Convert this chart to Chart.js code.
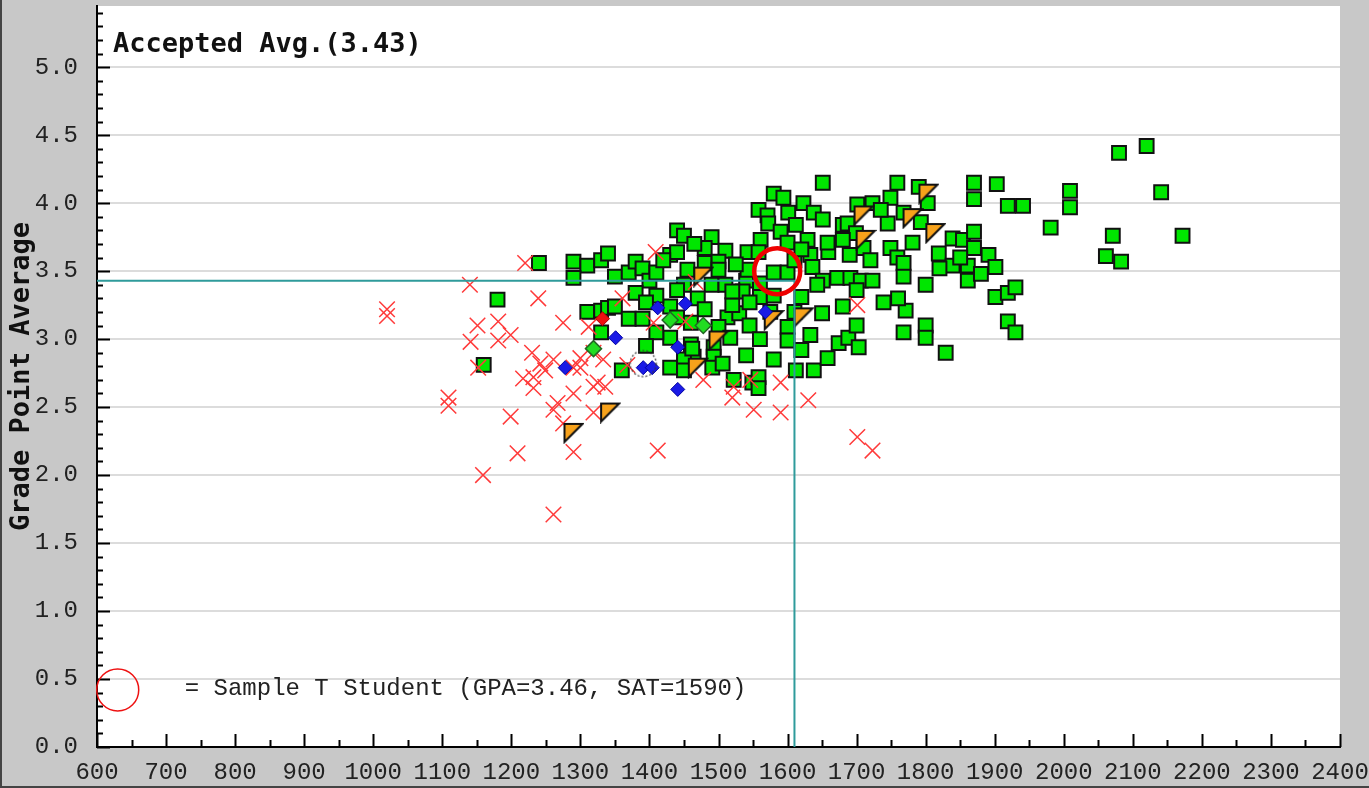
<!DOCTYPE html>
<html>
<head>
<meta charset="utf-8">
<script src="https://cdn.jsdelivr.net/npm/chart.js@4.4.1/dist/chart.umd.min.js"></script>
<style>
html,body{margin:0;padding:0;background:#c8c8c8;}
#wrap{width:1369px;height:788px;position:relative;}
</style>
</head>
<body>
<div id="wrap"><canvas id="c" width="1369" height="788"></canvas></div>
<script>
// ---- tick labels ----
const xTicks = [600,700,800,900,1000,1100,1200,1300,1400,1500,1600,1700,1800,1900,2000,2100,2200,2300,2400];
const yTicks = [0,0.5,1.0,1.5,2.0,2.5,3.0,3.5,4.0,4.5,5.0];

// ---- texts ----
const titleText = "Accepted Avg.(3.43)";
const yTitle = "Grade Point Average";
const legendText = "= Sample T Student (GPA=3.46, SAT=1590)";

// ---- reference values ----
const acceptedAvgGPA = 3.43;
const acceptedAvgSAT = 1610;
const sampleStudent = [[1585,3.50]];
const legendMarker = [[630,0.42]];

// ---- series: [SAT, GPA] ----
const accepted = [
[1240,3.56],[1290,3.57],[1310,3.54],[1330,3.58],[1340,3.63],[1290,3.45],[1350,3.46],[1370,3.49],[1380,3.57],[1390,3.52],
[1400,3.43],[1410,3.49],[1430,3.62],[1180,3.29],[1380,3.34],[1310,3.20],[1330,3.21],[1340,3.23],[1350,3.24],[1370,3.15],
[1390,3.15],[1430,3.24],[1330,3.05],[1430,3.01],[1160,2.81],[1360,2.77],[1430,2.79],[1410,3.32],[1395,3.27],
[1440,3.80],[1450,3.76],[1490,3.75],[1480,3.67],[1510,3.65],[1440,3.64],[1480,3.56],[1500,3.57],[1500,3.51],[1455,3.51],
[1450,3.40],[1490,3.40],[1510,3.40],[1540,3.43],[1560,3.41],[1560,3.31],[1580,3.32],[1620,3.31],[1535,3.35],[1440,3.36],
[1440,3.16],[1513,3.16],[1530,3.19],[1545,3.10],[1500,3.09],[1600,3.09],[1600,2.99],[1633,3.03],[1650,3.19],[1680,3.24],
[1517,3.01],[1493,2.94],[1460,2.96],[1464,2.87],[1493,2.87],[1580,2.85],[1612,2.77],[1638,2.77],[1658,2.86],[1674,2.97],
[1688,3.01],[1703,2.94],[1522,2.70],[1549,2.68],[1450,2.85],[1462,2.93],[1491,2.79],[1506,2.82],[1558,2.72],[1558,2.64],
[1450,2.77],[1545,3.27],[1470,3.30],[1520,3.25],
[1580,4.07],[1594,4.04],[1623,4.00],[1558,3.95],[1571,3.91],[1601,3.93],[1638,3.93],[1572,3.85],[1590,3.79],[1612,3.84],
[1651,3.88],[1680,3.84],[1651,4.15],[1561,3.73],[1600,3.71],[1629,3.73],[1542,3.64],[1558,3.64],[1633,3.62],[1659,3.64],
[1658,3.71],[1636,3.53],[1580,3.49],[1600,3.49],[1542,3.51],[1651,3.43],[1672,3.45],[1691,3.45],[1643,3.40],
[1759,4.15],[1790,4.12],[1749,4.04],[1723,4.00],[1701,3.99],[1687,3.85],[1699,3.78],[1710,3.67],[1768,3.93],[1793,3.86],
[1803,4.00],[1749,3.67],[1759,3.60],[1768,3.56],[1781,3.71],[1819,3.63],[1839,3.74],[1854,3.73],[1870,3.67],[1839,3.54],
[1861,3.54],[1891,3.62],[1901,3.53],[1768,3.46],[1800,3.40],[1861,3.43],[1706,3.43],[1723,3.43],[1739,3.27],[1771,3.21],
[1768,3.05],[1800,3.10],[1800,3.01],[1829,2.90],[1901,3.31],[1919,3.34],[1930,3.38],[1919,3.13],[1930,3.05],[1870,4.15],
[1870,4.03],[1903,4.14],[1919,3.98],[1941,3.98],[2009,4.09],[2009,3.97],[1981,3.82],[2071,3.76],[2172,3.76],[2061,3.61],
[2083,3.57],[2080,4.37],[2120,4.42],[2141,4.08],[1870,3.79],[1680,3.73],
[1420,3.58],[1465,3.70],[1525,3.55],[1610,3.58],[1620,3.66],[1690,3.62],[1720,3.58],[1745,3.85],[1735,3.95],[1820,3.52],
[1850,3.60],[1880,3.48],[1520,3.35],[1575,3.20],[1610,3.20],[1700,3.36],[1480,3.22],[1460,3.12],[1560,3.00],[1540,2.88],
[1620,2.92],[1700,3.10],[1760,3.30],[1410,3.05],[1395,2.95]
];
const rejected = [
[1020,3.22],[1020,3.17],[1140,3.40],[1220,3.56],[1239,3.30],[1151,3.10],[1141,2.98],[1181,3.13],[1181,2.99],[1199,3.03],
[1275,3.12],[1152,2.79],[1230,2.90],[1242,2.82],[1249,2.77],[1232,2.72],[1217,2.71],[1232,2.64],[1261,2.85],[1290,2.79],
[1300,2.86],[1109,2.57],[1109,2.51],[1199,2.43],[1261,2.48],[1290,2.60],[1319,2.65],[1336,2.65],[1319,2.46],[1275,2.38],
[1209,2.16],[1290,2.17],[1412,2.18],[1159,2.00],[1261,1.71],[1312,3.09],[1333,2.85],[1368,2.81],[1267,2.53],[1325,2.68],
[1361,3.30],[1409,3.64],[1478,2.70],[1520,2.57],[1546,2.70],[1551,2.48],[1590,2.68],[1590,2.46],[1630,2.55],[1701,2.28],
[1723,2.18],[1701,3.25],[1452,3.13],[1522,2.65],[1467,3.42],[1406,3.12],[1319,2.90],[1300,2.79]
];
const waitlisted = [
[1290,2.31],[1343,2.46],[1478,3.46],[1470,2.79],[1500,2.99],[1580,3.14],[1623,3.16],[1710,3.91],[1713,3.73],[1804,4.07],
[1781,3.89],[1814,3.78]
];
const blueDiamonds = [
[1278,2.79],[1351,3.01],[1412,3.23],[1452,3.26],[1441,2.94],[1441,2.63],[1391,2.79],[1404,2.79],[1568,3.20]
];
const greenDiamonds = [[1319,2.93],[1430,3.14],[1478,3.10]];
const redDiamonds = [[1332,3.15]];
const dashedCircle = [[1391,2.82]];

const toPts = a => a.map(p => ({x:p[0], y:p[1]}));

// ---- target plot frame (pixels) ----
const FRAME = {left:97, top:6, right:1340, bottom:747};

// ---- custom marker glyphs ----
function triGlyph(){
  const c = document.createElement('canvas'); c.width = 22; c.height = 22;
  const g = c.getContext('2d');
  g.beginPath(); g.moveTo(2,2); g.lineTo(20,2); g.lineTo(2,20); g.closePath();
  g.fillStyle = '#f7a21b'; g.fill();
  g.lineWidth = 2; g.strokeStyle = '#111'; g.stroke();
  return c;
}
function dashGlyph(){
  const c = document.createElement('canvas'); c.width = 32; c.height = 32;
  const g = c.getContext('2d');
  g.setLineDash([2,2]); g.lineWidth = 1.2; g.strokeStyle = '#333';
  g.beginPath(); g.arc(16,16,13,0,Math.PI*2); g.stroke();
  return c;
}

const MONO = '"DejaVu Sans Mono", "Liberation Mono", monospace';
const MONO2 = '"Liberation Mono", "DejaVu Sans Mono", monospace';

// pin the plot frame to the reference position
const frameFix = {
  id:'frameFix',
  afterLayout(chart){
    const a = chart.chartArea, {x, y} = chart.scales;
    a.top = FRAME.top; a.bottom = FRAME.bottom; a.left = FRAME.left; a.right = FRAME.right;
    a.width = a.right - a.left; a.height = a.bottom - a.top;
    y.top = FRAME.top; y.bottom = FRAME.bottom; y.left = 0; y.right = FRAME.left;
    y.height = y.bottom - y.top; y.width = FRAME.left;
    y.configure();
    x.left = FRAME.left; x.right = FRAME.right; x.top = FRAME.bottom; x.bottom = chart.height;
    x.width = x.right - x.left; x.height = x.bottom - x.top;
    x.configure();
  }
};

const decor = {
  id:'decor',
  beforeDraw(chart){
    const {ctx, chartArea:a} = chart;
    ctx.save();
    ctx.fillStyle = '#c8c8c8'; ctx.fillRect(0,0,chart.width,chart.height);
    ctx.fillStyle = '#ffffff'; ctx.fillRect(a.left, a.top, a.right-a.left, a.bottom-a.top);
    ctx.fillStyle = '#444'; ctx.fillRect(0,0,2,chart.height); ctx.fillRect(0,chart.height-2,chart.width,2);
    ctx.restore();
  },
  beforeDatasetsDraw(chart){
    const {ctx, chartArea:a, scales:{x,y}} = chart;
    ctx.save();
    ctx.strokeStyle = '#000'; ctx.lineWidth = 2;
    ctx.beginPath();
    for (let i = 0; i <= 54; i++){
      const v = i/10, py = Math.round(y.getPixelForValue(v)) + 0.5;
      const len = (i % 5 === 0) ? 13 : 6;
      ctx.moveTo(a.left, py); ctx.lineTo(a.left+len, py);
    }
    for (let v = 600; v <= 2400; v += 50){
      const px = Math.round(x.getPixelForValue(v)) + 0.5;
      const len = (v % 100 === 0) ? 13 : 7;
      ctx.moveTo(px, a.bottom); ctx.lineTo(px, a.bottom-len);
    }
    ctx.stroke();
    ctx.restore();
  },
  afterDraw(chart){
    const {ctx, chartArea:a, scales:{x,y}} = chart;
    ctx.save();
    ctx.fillStyle = '#111';
    ctx.font = 'bold 27px ' + MONO;
    ctx.textBaseline = 'alphabetic'; ctx.textAlign = 'left';
    ctx.fillText(titleText, a.left+16, a.top+46);
    ctx.font = '24px ' + MONO2;
    ctx.fillStyle = '#222';
    ctx.textBaseline = 'middle';
    ctx.fillText(legendText, x.getPixelForValue(legendMarker[0][0]) + 67, y.getPixelForValue(legendMarker[0][1]) - 1);
    ctx.restore();
  }
};

const chart = new Chart(document.getElementById('c'), {
  type:'scatter',
  data:{ datasets:[
    {label:'sample', data:toPts(sampleStudent), pointStyle:'circle', pointRadius:23, backgroundColor:'rgba(0,0,0,0)', borderColor:'#ee0000', borderWidth:4.5, order:0},
    {label:'legend', data:toPts(legendMarker), pointStyle:'circle', pointRadius:21, backgroundColor:'rgba(0,0,0,0)', borderColor:'#ee1111', borderWidth:1.5, order:0, clip:false},
    {label:'avg', type:'line', data:[{x:xTicks[0],y:acceptedAvgGPA},{x:acceptedAvgSAT,y:acceptedAvgGPA},{x:acceptedAvgSAT,y:yTicks[0]}], borderColor:'#2f9b9b', borderWidth:2, pointRadius:0, fill:false, tension:0, order:1},
    {label:'dash', data:toPts(dashedCircle), pointStyle:dashGlyph(), order:2},
    {label:'blue', data:toPts(blueDiamonds), pointStyle:'rectRot', pointRadius:7, backgroundColor:'#1a1ae6', borderColor:'#0000a0', borderWidth:1, order:2},
    {label:'gdia', data:toPts(greenDiamonds), pointStyle:'rectRot', pointRadius:8, backgroundColor:'#22dd22', borderColor:'#226622', borderWidth:1.5, order:2},
    {label:'rdia', data:toPts(redDiamonds), pointStyle:'rectRot', pointRadius:7, backgroundColor:'#ee1111', borderColor:'#aa0000', borderWidth:1, order:2},
    {label:'wait', data:toPts(waitlisted), pointStyle:triGlyph(), order:3},
    {label:'rej', data:toPts(rejected), pointStyle:'crossRot', pointRadius:11, borderColor:'#ff3a3a', borderWidth:1.5, order:4},
    {label:'acc', data:toPts(accepted), pointStyle:'rect', pointRadius:9.8, backgroundColor:'#00e600', borderColor:'#111', borderWidth:2, order:5}
  ]},
  options:{
    responsive:false, animation:false, events:[],
    layout:{padding:{top:6,right:29,left:0,bottom:0}},
    plugins:{legend:{display:false}, tooltip:{enabled:false}},
    scales:{
      x:{type:'linear', min:600, max:2400,
         afterBuildTicks:s => { s.ticks = xTicks.map(v => ({value:v})); },
         afterFit:s => { s.height = 41; },
         grid:{display:false, drawTicks:false},
         border:{display:true, color:'#000', width:2},
         ticks:{padding:11, maxRotation:0, autoSkip:false, color:'#222', font:{family:MONO2, size:24}, callback:v => String(v)}
      },
      y:{type:'linear', min:0, max:5.45,
         afterBuildTicks:s => { s.ticks = yTicks.map(v => ({value:v})); },
         afterFit:s => { s.width = 97; },
         grid:{drawTicks:false, lineWidth:2, color:c => (c.tick && c.tick.value === 0) ? 'rgba(0,0,0,0)' : '#dcdcdc'},
         border:{display:true, color:'#000', width:2},
         title:{display:true, text:yTitle, color:'#111', font:{family:MONO, size:27, weight:'bold'}, padding:{top:6,bottom:0}},
         ticks:{padding:19, autoSkip:false, color:'#222', font:{family:MONO2, size:24}, callback:v => Number(v).toFixed(1)}
      }
    }
  },
  plugins:[frameFix, decor]
});
</script>
</body>
</html>
